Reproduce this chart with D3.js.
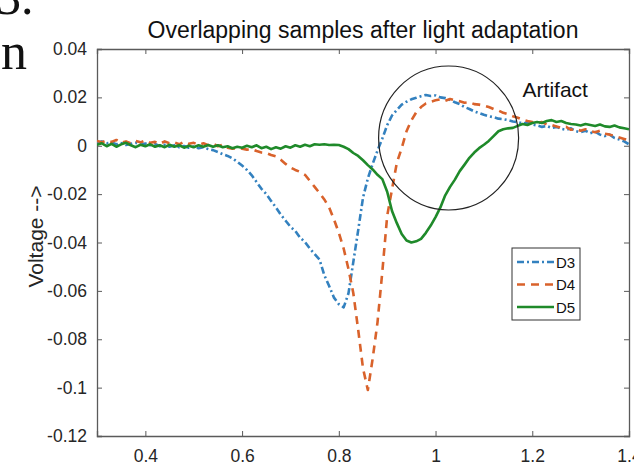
<!DOCTYPE html>
<html><head><meta charset="utf-8">
<script src="https://cdn.jsdelivr.net/npm/d3@7"></script>
<style>body{margin:0;background:#fff}svg{display:block}</style>
</head><body>
<script>
const xStart = 0.30, xStep = 0.01;
const seriesNames = ["D3", "D4", "D5"];
const d3Values = [0.0012,0.0018,0.0010,0.0014,0.0006,0.0011,0.0003,0.0008,0.0012,0.0004,
0.0009,0.0002,0.0007,-0.0002,0.0004,-0.0004,0.0002,-0.0006,-0.0001,-0.0008,
-0.0003,-0.0010,-0.0006,-0.0014,-0.0018,-0.0026,-0.0035,-0.0042,-0.0052,-0.0066,
-0.0082,-0.0100,-0.0122,-0.0150,-0.0178,-0.0200,-0.0228,-0.0255,-0.0285,-0.0310,
-0.0335,-0.0352,-0.0380,-0.0398,-0.0425,-0.0448,-0.0470,-0.0535,-0.0580,-0.0628,
-0.0655,-0.0668,-0.0610,-0.0480,-0.0350,-0.0215,-0.0135,-0.0075,-0.0020,0.0030,
0.0085,0.0125,0.0148,0.0170,0.0182,0.0192,0.0198,0.0205,0.0210,0.0206,
0.0208,0.0200,0.0197,0.0190,0.0180,0.0172,0.0160,0.0152,0.0142,0.0135,
0.0128,0.0122,0.0118,0.0112,0.0110,0.0106,0.0100,0.0098,0.0092,0.0096,
0.0088,0.0084,0.0078,0.0082,0.0074,0.0078,0.0070,0.0066,0.0072,0.0060,
0.0056,0.0062,0.0052,0.0058,0.0046,0.0040,0.0046,0.0032,0.0026,0.0018,0.0006];
const d4Values = [0.0020,0.0014,0.0022,0.0016,0.0024,0.0012,0.0018,0.0010,0.0020,0.0014,
0.0022,0.0012,0.0016,0.0008,0.0018,0.0010,0.0014,0.0006,0.0016,0.0008,
0.0012,0.0004,0.0010,0.0002,0.0008,-0.0002,0.0004,-0.0008,-0.0012,-0.0010,
-0.0012,-0.0016,-0.0014,-0.0022,-0.0028,-0.0030,-0.0038,-0.0044,-0.0058,-0.0075,
-0.0090,-0.0100,-0.0108,-0.0120,-0.0145,-0.0170,-0.0195,-0.0222,-0.0255,-0.0305,
-0.0360,-0.0425,-0.0510,-0.0610,-0.0760,-0.0920,-0.1010,-0.0880,-0.0730,-0.0520,
-0.0290,-0.0180,-0.0070,-0.0010,0.0060,0.0105,0.0138,0.0160,0.0175,0.0182,
0.0188,0.0192,0.0186,0.0193,0.0188,0.0184,0.0178,0.0180,0.0172,0.0170,
0.0166,0.0160,0.0152,0.0146,0.0136,0.0130,0.0122,0.0116,0.0108,0.0102,
0.0098,0.0094,0.0098,0.0088,0.0086,0.0080,0.0074,0.0078,0.0066,0.0070,
0.0062,0.0068,0.0060,0.0056,0.0062,0.0050,0.0046,0.0040,0.0034,0.0028,0.0022];
const d5Values = [0.0004,0.0010,-0.0002,0.0008,-0.0004,0.0006,0.0012,0.0002,-0.0006,0.0004,
-0.0002,0.0006,-0.0004,0.0002,-0.0006,0.0004,-0.0004,0.0002,-0.0008,0.0000,
-0.0006,0.0002,-0.0004,0.0003,-0.0004,0.0002,-0.0006,-0.0002,-0.0010,-0.0004,
-0.0008,0.0000,-0.0006,0.0002,-0.0010,-0.0004,-0.0014,-0.0006,-0.0012,-0.0002,
-0.0008,0.0002,-0.0004,0.0004,-0.0002,0.0006,0.0004,0.0006,0.0003,0.0004,
0.0003,-0.0004,-0.0014,-0.0030,-0.0042,-0.0060,-0.0080,-0.0098,-0.0120,-0.0138,
-0.0190,-0.0270,-0.0320,-0.0365,-0.0392,-0.0400,-0.0395,-0.0385,-0.0360,-0.0330,
-0.0295,-0.0255,-0.0205,-0.0170,-0.0140,-0.0105,-0.0078,-0.0050,-0.0028,-0.0010,
0.0004,0.0020,0.0040,0.0060,0.0068,0.0072,0.0074,0.0082,0.0090,0.0086,
0.0094,0.0098,0.0094,0.0102,0.0106,0.0098,0.0102,0.0094,0.0090,0.0088,
0.0084,0.0090,0.0086,0.0082,0.0088,0.0080,0.0078,0.0084,0.0076,0.0072,0.0068];
const xTicks = [0.4, 0.6, 0.8, 1.0, 1.2, 1.4];
const xTickLabels = ["0.4", "0.6", "0.8", "1", "1.2", "1.4"];
const yTicks = [0.04, 0.02, 0, -0.02, -0.04, -0.06, -0.08, -0.1, -0.12];
const yTickLabels = ["0.04", "0.02", "0", "-0.02", "-0.04", "-0.06", "-0.08", "-0.1", "-0.12"];
const titleText = "Overlapping samples after light adaptation";
const yLabelText = "Voltage -->";
const annotationText = "Artifact";
const circleCenter = [1.027, 0.0032];

const W = 634, H = 467;
const mLeft = 97, mRight = 629, mTop = 49, mBottom = 436;
const x = d3.scaleLinear().domain([0.3, 1.4]).range([mLeft, mRight]);
const y = d3.scaleLinear().domain([-0.12, 0.04]).range([mBottom, mTop]);

const svg = d3.select("body").append("svg").attr("width", W).attr("height", H)
  .style("font-family", "Liberation Sans, Arial, sans-serif");

// document fragments at top-left
svg.append("text").attr("x", -4).attr("y", 14).attr("font-family", "Liberation Serif, serif")
  .attr("font-size", 50).attr("fill", "#111").text("3.");
svg.append("text").attr("x", 1).attr("y", 69).attr("font-family", "Liberation Serif, serif")
  .attr("font-size", 52).attr("fill", "#111").text("n");

svg.append("clipPath").attr("id", "clip").append("rect")
  .attr("x", mLeft).attr("y", mTop).attr("width", mRight - mLeft).attr("height", mBottom - mTop);

const axisColor = "#5a5a5a";
const xAxB = d3.axisBottom(x).tickValues(xTicks).tickSize(-5).tickFormat((d, i) => xTickLabels[i]).tickPadding(14);
const gx = svg.append("g").attr("transform", `translate(0,${mBottom})`).call(xAxB);
gx.selectAll("text").attr("font-size", 17.5).attr("fill", "#262626");
const xAxT = d3.axisTop(x).tickValues(xTicks).tickSize(-5).tickFormat("");
const gxt = svg.append("g").attr("transform", `translate(0,${mTop})`).call(xAxT);
const yAxL = d3.axisLeft(y).tickValues(yTicks).tickSize(-5).tickFormat((d, i) => yTickLabels[i]).tickPadding(10);
const gy = svg.append("g").attr("transform", `translate(${mLeft},0)`).call(yAxL);
gy.selectAll("text").attr("font-size", 17.5).attr("fill", "#262626");
const yAxR = d3.axisRight(y).tickValues(yTicks).tickSize(-5).tickFormat("");
const gyr = svg.append("g").attr("transform", `translate(${mRight},0)`).call(yAxR);
[gx, gxt, gy, gyr].forEach(g => {
  g.select(".domain").attr("stroke", axisColor).attr("stroke-width", 1.3);
  g.selectAll(".tick line").attr("stroke", axisColor).attr("stroke-width", 1);
});

svg.append("text").attr("x", (mLeft + mRight) / 2).attr("y", 38).attr("text-anchor", "middle")
  .attr("font-size", 23).attr("fill", "#111").text(titleText);
svg.append("text").attr("transform", `translate(43,${(mTop + mBottom) / 2 - 6}) rotate(-90)`)
  .attr("text-anchor", "middle").attr("font-size", 21).attr("fill", "#262626").text(yLabelText);

const series = [
  {name: seriesNames[0], values: d3Values, color: "#3381bf", dash: "7,3,2,3"},
  {name: seriesNames[1], values: d4Values, color: "#d9622b", dash: "8,6"},
  {name: seriesNames[2], values: d5Values, color: "#1f8a2a", dash: null}
];
const line = d3.line().x((d, i) => x(xStart + i * xStep)).y(d => y(d));
const plot = svg.append("g").attr("clip-path", "url(#clip)");
series.forEach(s => {
  plot.append("path").datum(s.values).attr("d", line).attr("fill", "none")
    .attr("stroke", s.color).attr("stroke-width", 2.6)
    .attr("stroke-dasharray", s.dash).attr("stroke-linejoin", "round");
});

svg.append("ellipse").attr("cx", x(circleCenter[0])).attr("cy", y(circleCenter[1]))
  .attr("rx", 70).attr("ry", 72).attr("fill", "none").attr("stroke", "#222").attr("stroke-width", 1.2);
svg.append("text").attr("x", x(1.18)).attr("y", 97).attr("font-size", 21).attr("fill", "#111").text(annotationText);

const lg = svg.append("g").attr("transform", "translate(512,248)");
lg.append("rect").attr("width", 68).attr("height", 72).attr("fill", "#fff").attr("stroke", "#333").attr("stroke-width", 1);
series.forEach((s, i) => {
  const yy = 14 + i * 22.5;
  lg.append("line").attr("x1", 5).attr("x2", 42).attr("y1", yy).attr("y2", yy)
    .attr("stroke", s.color).attr("stroke-width", 2.6).attr("stroke-dasharray", s.dash);
  lg.append("text").attr("x", 44).attr("y", yy + 5.5).attr("font-size", 15).attr("fill", "#111").text(s.name);
});
</script>
</body></html>
